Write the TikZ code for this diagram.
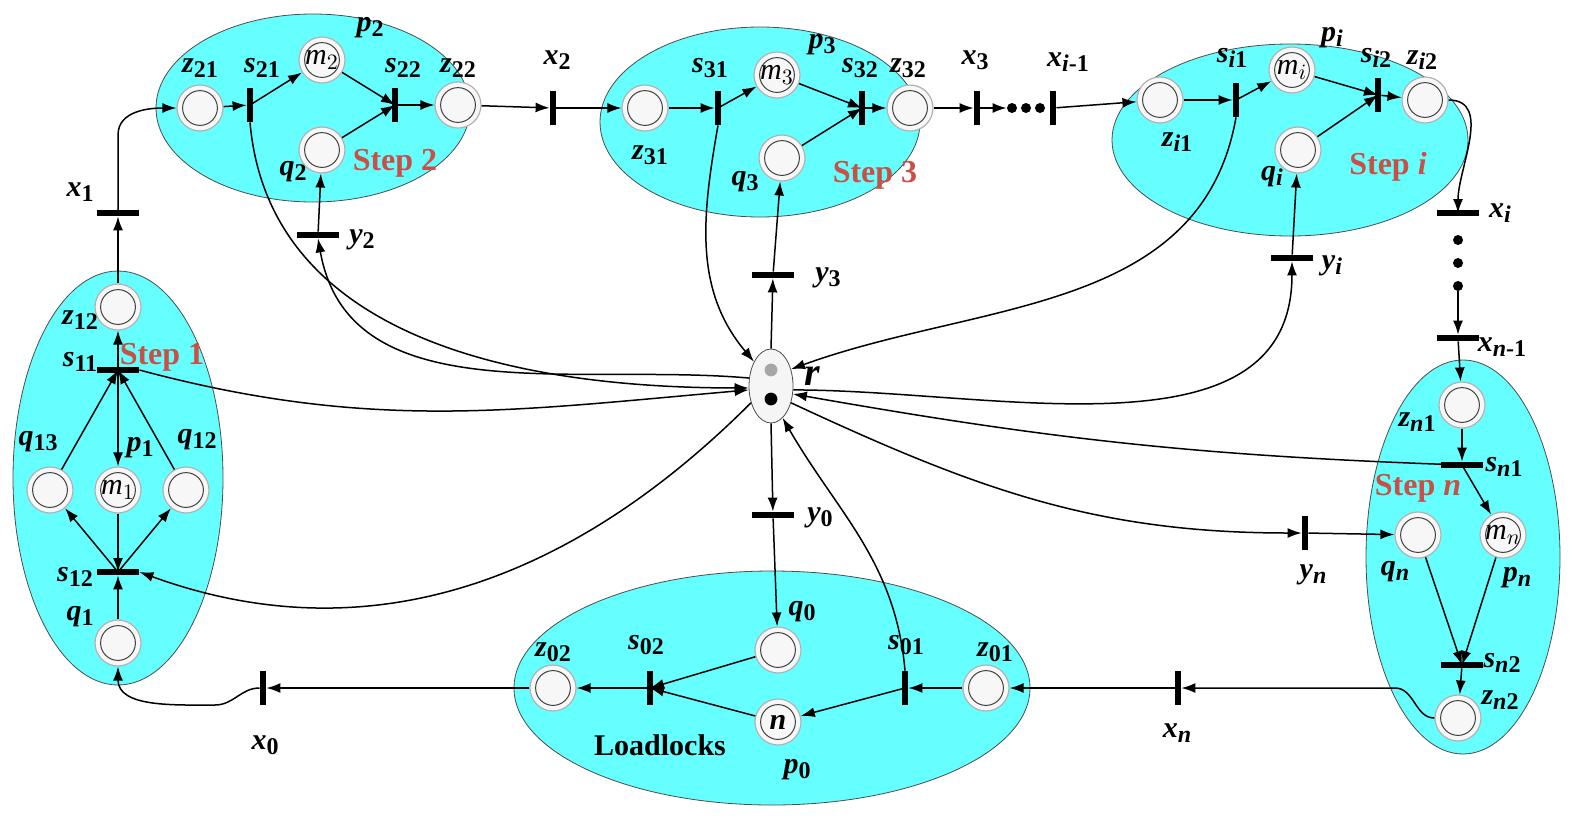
\documentclass[tikz,border=0pt]{standalone}
\usepackage{fontspec}
\setmainfont{Liberation Serif}
\usetikzlibrary{arrows.meta,shapes.geometric}
\definecolor{cyanfill}{RGB}{102,255,255}
\definecolor{steptxt}{RGB}{200,80,70}
\newcommand{\lb}[2]{\textbf{\textit{#1}}\raisebox{-0.35ex}{\fontsize{12}{13}\selectfont\textbf{#2}}}
\begin{document}
\begin{tikzpicture}[x=0.5pt,y=-0.5pt,
  font=\fontsize{15}{17}\selectfont,
  grp/.style={draw=gray!60!black,fill=cyanfill,line width=0.4pt},
  pl/.style={circle,draw=gray!60,line width=0.6pt,fill=gray!6,minimum size=23pt,inner sep=0pt,
    path picture={\draw[gray!50!black,line width=0.5pt] (path picture bounding box.center) circle (8.7pt);}},
  vt/.style={rectangle,fill=black,minimum width=3pt,minimum height=17pt,inner sep=0pt},
  ht/.style={rectangle,fill=black,minimum width=21pt,minimum height=3pt,inner sep=0pt},
  ar/.style={-{Latex[length=7pt,width=5pt]},line width=0.75pt},
  stp/.style={text=steptxt,font=\fontsize{16}{18}\selectfont\bfseries},
  dt/.style={circle,fill=black,minimum size=5pt,inner sep=0pt}]
\useasboundingbox (0,0) rectangle (1591,831);
% groups
\draw[grp] (118,478) ellipse [x radius=105, y radius=207];
\draw[grp] (313,108) ellipse [x radius=157, y radius=94];
\draw[grp] (760,122) ellipse [x radius=160, y radius=95];
\draw[grp] (1290,140) ellipse [x radius=178, y radius=96];
\draw[grp] (1463,557) ellipse [x radius=97, y radius=197];
\draw[grp] (772,688) ellipse [x radius=258, y radius=117];
% places
\node[pl] (z21) at (200,108) {}; \node[pl] (p2) at (322,60) {\textit{m}$_2$};
\node[pl] (q2) at (322,150) {}; \node[pl] (z22) at (458,105) {};
\node[pl] (z31) at (645,108) {}; \node[pl] (p3) at (777,75) {\textit{m}$_3$};
\node[pl] (q3) at (782,158) {}; \node[pl] (z32) at (910,108) {};
\node[pl] (zi1) at (1160,100) {}; \node[pl] (pi) at (1292,70) {\textit{m}$_i$};
\node[pl] (qi) at (1298,150) {}; \node[pl] (zi2) at (1425,100) {};
\node[pl] (zn1) at (1462,405) {}; \node[pl] (qn) at (1418,535) {};
\node[pl] (pn) at (1503,535) {\textit{m}$_n$}; \node[pl] (zn2) at (1458,718) {};
\node[pl] (z01) at (986,688) {}; \node[pl] (p0) at (778,722) {\textbf{\textit{n}}};
\node[pl] (q0) at (778,650) {}; \node[pl] (z02) at (553,688) {};
\node[pl] (z12) at (118,307) {}; \node[pl] (q13) at (50,490) {};
\node[pl] (p1) at (118,490) {\textit{m}$_1$}; \node[pl] (q12) at (186,490) {};
\node[pl] (q1) at (118,643) {};
\node[ellipse,draw=gray!60!black,fill=gray!8,minimum width=22pt,minimum height=37pt,inner sep=0pt] (r) at (771,386) {};
\fill[gray!70] (771,370) circle (3.2pt);
\fill[black] (771,399) circle (3.2pt);
% transitions
\node[vt] (s21) at (250,105) {}; \node[vt] (s22) at (395,105) {};
\node[vt] (x2) at (553,108) {};
\node[vt] (s31) at (718,108) {}; \node[vt] (s32) at (862,108) {};
\node[vt] (x3) at (977,108) {}; \node[vt] (xim) at (1053,108) {};
\node[vt] (si1) at (1236,100) {}; \node[vt] (si2) at (1378,95) {};
\node[ht] (xi) at (1458,213) {}; \node[ht] (xnm) at (1458,338) {};
\node[ht] (sn1) at (1462,465) {}; \node[ht] (sn2) at (1462,665) {};
\node[vt] (xn) at (1178,688) {}; \node[vt] (yn) at (1305,533) {};
\node[vt] (s01) at (905,688) {}; \node[vt] (s02) at (650,688) {};
\node[vt] (x0) at (263,688) {};
\node[ht] (x1) at (118,213) {}; \node[ht] (s11) at (118,370) {};
\node[ht] (s12) at (118,572) {};
\node[ht] (y2) at (318,235) {}; \node[ht] (y3) at (773,275) {};
\node[ht] (yi) at (1292,258) {}; \node[ht] (y0) at (773,515) {};
% dots
\node[dt] (d1) at (1012,108) {}; \node[dt] (d2) at (1026,108) {}; \node[dt] (d3) at (1040,108) {};
\node[dt] (e1) at (1458,240) {}; \node[dt] (e2) at (1458,263) {}; \node[dt] (e3) at (1458,286) {};
% labels
\node at (200,68) {\lb{z}{21}}; \node at (262,68) {\lb{s}{21}};
\node at (370,28) {\lb{p}{2}}; \node at (403,68) {\lb{s}{22}};
\node at (458,68) {\lb{z}{22}}; \node at (293,172) {\lb{q}{2}};
\node[stp] at (395,163) {Step 2};
\node at (557,60) {\lb{x}{2}};
\node at (650,155) {\lb{z}{31}}; \node at (710,68) {\lb{s}{31}};
\node at (822,45) {\lb{p}{3}}; \node at (860,68) {\lb{s}{32}};
\node at (908,68) {\lb{z}{32}}; \node at (745,182) {\lb{q}{3}};
\node[stp] at (875,175) {Step 3};
\node at (975,60) {\lb{x}{3}}; \node at (1068,62) {\lb{x}{\textit{i}-1}};
\node at (1232,58) {\lb{s}{\textit{i}1}}; \node at (1332,38) {\lb{p}{\textit{i}}};
\node at (1376,58) {\lb{s}{\textit{i}2}}; \node at (1422,60) {\lb{z}{\textit{i}2}};
\node at (1177,142) {\lb{z}{\textit{i}1}}; \node at (1272,177) {\lb{q}{\textit{i}}};
\node[stp] at (1388,167) {Step \textit{i}};
\node at (1500,213) {\lb{x}{\textit{i}}}; \node at (1502,347) {\lb{x}{\textit{n}-1}};
\node at (1417,422) {\lb{z}{\textit{n}1}}; \node at (1504,467) {\lb{s}{\textit{n}1}};
\node[stp] at (1418,488) {Step \textit{n}};
\node at (1395,572) {\lb{q}{\textit{n}}}; \node at (1517,578) {\lb{p}{\textit{n}}};
\node at (1502,663) {\lb{s}{\textit{n}2}}; \node at (1500,700) {\lb{z}{\textit{n}2}};
\node at (1177,733) {\lb{x}{\textit{n}}}; \node at (1313,575) {\lb{y}{\textit{n}}};
\node at (995,652) {\lb{z}{01}}; \node at (906,645) {\lb{s}{01}};
\node at (802,612) {\lb{q}{0}}; \node at (797,770) {\lb{p}{0}};
\node at (646,645) {\lb{s}{02}}; \node at (553,652) {\lb{z}{02}};
\node[font=\fontsize{15}{17}\selectfont\bfseries] at (660,745) {Loadlocks};
\node at (265,745) {\lb{x}{0}};
\node at (80,192) {\lb{x}{1}}; \node at (362,240) {\lb{y}{2}};
\node at (828,278) {\lb{y}{3}}; \node at (1332,266) {\lb{y}{\textit{i}}};
\node at (820,518) {\lb{y}{0}};
\node[font=\fontsize{20}{22}\selectfont\bfseries\itshape] at (812,376) {r};
\node at (80,320) {\lb{z}{12}}; \node at (80,362) {\lb{s}{11}};
\node[stp] at (162,357) {Step 1};
\node at (38,442) {\lb{q}{13}}; \node at (140,448) {\lb{p}{1}};
\node at (197,440) {\lb{q}{12}}; \node at (75,577) {\lb{s}{12}};
\node at (80,617) {\lb{q}{1}};
% main flow
\draw[ar] (z12) -- (x1);
\draw[ar] (x1.center) -- (118,135) to[out=90,in=180] (z21.west);
\draw[ar] (z21) -- (s21); \draw[ar] (s21.center) -- (p2); \draw[ar] (p2) -- (s22.center);
\draw[ar] (q2) -- (s22.center); \draw[ar] (s22) -- (z22);
\draw[ar] (z22) -- (x2); \draw[ar] (x2) -- (z31);
\draw[ar] (z31) -- (s31); \draw[ar] (s31.center) -- (p3); \draw[ar] (p3) -- (s32.center);
\draw[ar] (q3) -- (s32.center); \draw[ar] (s32) -- (z32);
\draw[ar] (z32) -- (x3); \draw[ar] (x3) -- (d1.west);
\draw[ar] (xim) -- (zi1);
\draw[ar] (zi1) -- (si1); \draw[ar] (si1.center) -- (pi); \draw[ar] (pi) -- (si2.center);
\draw[ar] (qi) -- (si2.center); \draw[ar] (si2) -- (zi2);
\draw[ar] (zi2.east) to[out=0,in=90] (xi.center);
\draw[ar] (e3.south) -- (xnm); \draw[ar] (xnm) -- (zn1);
\draw[ar] (zn1) -- (sn1); \draw[ar] (sn1.center) -- (pn); \draw[ar] (pn) -- (sn2.center);
\draw[ar] (qn) -- (sn2.center); \draw[ar] (sn2) -- (zn2);
\draw[ar] (zn2.west) to[out=180,in=0] (1395,688) -- (xn);
\draw[ar] (xn) -- (z01); \draw[ar] (z01) -- (s01); \draw[ar] (s01.center) -- (p0);
\draw[ar] (p0) -- (s02.center); \draw[ar] (q0) -- (s02.center); \draw[ar] (s02) -- (z02);
\draw[ar] (z02) -- (x0);
\draw[ar] (x0.west) to[out=180,in=0] (215,705) to[out=180,in=-90] (q1.south);
\draw[ar] (q1) -- (s12); \draw[ar] (s12.center) -- (q13); \draw[ar] (s12.center) -- (q12);
\draw[ar] (p1) -- (s12.center);
\draw[ar] (q13) -- (s11.center); \draw[ar] (q12) -- (s11.center);
\draw[ar] (s11.center) -- (p1); \draw[ar] (s11) -- (z12);
% resource connections
\draw[ar] (y2) -- (q2); \draw[ar] (y3) -- (q3); \draw[ar] (yi) -- (qi);
\draw[ar] (y0) -- (q0); \draw[ar] (yn) -- (qn);
\draw[ar] (s21.south) to[out=-85,in=180] (r.185);
\draw[ar] (r.160) to[out=175,in=-80] (y2.south);
\draw[ar] (s31.south) to[out=-100,in=130] (r.125);
\draw[ar] (r.north) -- (y3);
\draw[ar] (si1.south) to[out=-100,in=20] (r.40);
\draw[ar] (r.-10) to[out=0,in=-90] (yi.south);
\draw[ar] (s11.east) to[out=-15,in=185] (r.190);
\draw[ar] (r.220) to[out=-135,in=-20] (s12.east);
\draw[ar] (r.south) -- (y0);
\draw[ar] (s01.north) to[out=95,in=-60] (r.-70);
\draw[ar] (sn1.center) to[out=178,in=-10] (r.-20);
\draw[ar] (r.-40) to[out=-25,in=180] (yn.west);
\end{tikzpicture}
\end{document}
